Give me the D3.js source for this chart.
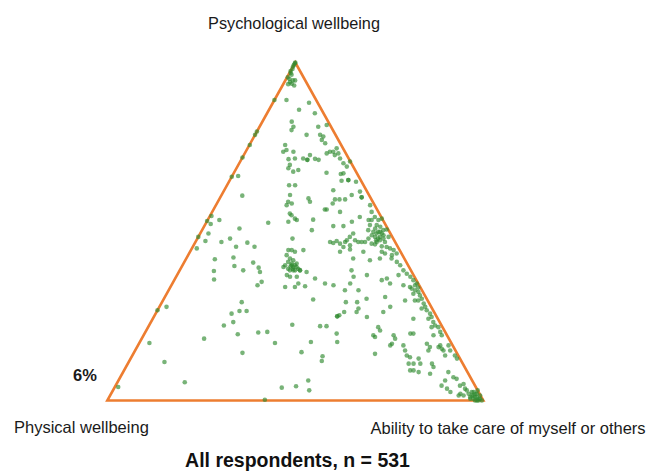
<!DOCTYPE html>
<html>
<head>
<meta charset="utf-8">
<script src="https://cdn.jsdelivr.net/npm/d3@7"></script>
<style>
html,body{margin:0;padding:0;background:#fff;}
svg{display:block;font-family:"Liberation Sans",Arial,sans-serif;}
</style>
</head>
<body>
<svg id="chart" width="651" height="471"></svg>
<script>
// Corner (component) labels of the ternary plot
const cornerLabels = ["Psychological wellbeing", "Physical wellbeing", "Ability to take care of myself or others"];
const chartTitle = "All respondents, n = 531";
const cornerNote = "6%";

// Each response: [psychological %, ability %]; physical % = remainder
const responses = [
[100,0],[99.8,0],[99.3,0],[98.8,0],[98.1,0.2],[97.5,0],[96.9,0.3],[96.4,0.8],[95.6,0.2],[95.1,0.9],[94.7,2.0],[94.2,1.5],[94.7,2.6],[93.7,2.2],[93.6,1.3],[93.2,3.1],
[88.9,0],[88.9,3.2],[88.1,9.6],[86.0,8.0],[85.0,12.7],[82.5,7.8],[81.0,9.0],[80.0,9.0],[79.6,0],[78.6,0],[75.6,0.1],
[81.0,15.6],[81.5,17.6],[78.6,17.3],[78.1,18.4],[77.1,18.5],[76.1,19.9],[78.6,13.7],
[75.6,9.5],[74.1,10.6],[73.6,10.0],[73.6,12.7],[71.4,12.5],[71.6,14.1],[71.6,16.3],[71.2,17.6],[71.2,17.6],[72.6,17.6],[71.5,19.5],[71.2,20.6],[73.1,21.8],[73.6,22.4],[73.6,23.3],[74.6,23.7],[73.1,24.9],[72.6,24.2],[71.6,26.1],[70.2,27.7],[69.2,29.1],[70.7,29.2],[69.7,13.7],[68.7,13.8],[67.7,15.6],[68.2,16.7],[67.2,29.2],[64.7,33.8],
[71.9,0],[66.2,0],[66.4,1.6],[60.6,5.6],[54.6,0.4],[53.1,0],[53.4,3.1],[48.4,0],[45.0,1.3],[49.4,2.2],[46.9,6.9],[47.9,8.7],[45.5,11.5],[46.7,13.9],[45.5,16.4],[50.9,9.7],[52.6,16.5],[41.8,7.7],[42.3,12.4],[39.8,13.9],[38.5,16.9],[40.8,18.4],[38.0,21.6],[35.1,23.5],[34.1,22.9],[38.3,9.2],[35.8,10.5],[39.3,20.6],[47.2,2.5],[52.2,1.4],
[27.7,1.9],[26.7,0],[29.1,21.2],[26.5,21.9],[25.7,20.2],[26.5,23.8],[22.2,19.9],[23.2,21.9],[19.6,24.9],[14.1,28.9],[20.1,30.1],[20.3,32.4],[17.0,36.1],[18.3,16.6],[17.0,2.7],[11.4,9.5],[5.4,17.9],[4.0,0.9],[0.2,41.8],[3.8,44.5],[4.2,48.1],[5.9,50.5],[3.0,52.2],[22.4,38.0],
[14.3,44.5],[13.1,50.7],[11.7,51.2],[22.0,45.6],[22.0,47.3],[24.9,48.7],[24.9,48.7],[25.2,49.1],[19.8,51.1],[17.3,52.5],
[33.8,35.7],[32.6,46.9],[32.6,50.5],[29.9,39.8],[29.1,48.9],[29.1,51.9],[27.2,53.2],[26.2,49.9],[26.2,53.2],[17.3,45.5],
[67.4,24.6],[67.0,28.6],[65.2,31.5],[65.2,31.5],[65.0,29.8],[62.2,29.0],[61.8,36.3],[60.1,37.6],[60.1,37.6],[60.8,34.6],[59.8,23.6],[59.5,30.8],[59.5,32.0],[59.5,33.5],[58.3,30.8],[58.8,24.5],[56.5,29.6],[56.5,30.1],[55.8,34.0],[57.8,41.0],[55.8,42.4],[54.3,44.0],[53.5,28.0],[52.9,38.6],[54.3,40.0],[53.4,42.8],[53.4,45.4],[53.8,46.1],[51.9,43.9],[51.6,34.3],[51.6,37.0],[50.4,29.2],[50.4,44.2],[50.9,45.8],[51.4,46.9],[50.4,48.2],[50.6,49.0],[48.9,45.9],[49.4,46.9],[48.4,48.3],[48.9,49.0],[48.4,50.6],[47.4,48.8],[46.9,50.4],[49.4,40.7],[48.4,40.3],[47.4,40.0],[47.4,42.2],[46.9,35.8],[46.6,36.8],[47.2,37.4],[46.4,38.7],[46.9,39.8],[46.9,43.3],[46.9,44.2],[46.9,45.1],[46.4,47.1],[46.2,48.1],[46.9,48.2],[45.4,40.1],[45.9,41.6],[44.0,39.9],[44.7,42.2],[45.6,50.2],[45.4,51.6],[45.0,52.7],[44.5,53.9],[43.5,55.2],[44.5,29.9],[44.0,51.0],[43.5,52.1],[43.0,54.2],[44.0,46.1],[42.0,44.4],[41.5,49.1],[42.0,51.5],[42.0,54.6],[41.0,56.5],[40.0,57.9],[38.5,59.5],[37.5,60.9],[36.6,62.3],[35.6,63.6],[34.6,65.0],[38.5,45.7],[37.1,50.5],[36.6,47.2],[38.0,34.0],[38.5,32.0],[36.1,37.2],[34.6,40.6],[34.1,43.1],[34.6,47.3],[35.6,55.2],[36.1,56.3],[34.6,57.9],[37.1,58.9],[34.1,61.7],[33.6,63.7],[34.1,64.8],[33.4,66.0],[49.9,47.1],[49.4,48.3],[48.4,47.0],[47.9,48.1],[47.9,49.5],[49.9,45.8],[49.9,47.6],[51.9,45.7],[53.4,43.6],[47.4,47.8],[47.9,45.5],
[63.7,16.5],[63.7,18.1],[60.8,18.2],[58.8,18.7],[58.3,19.9],[57.8,18.8],[55.3,20.9],[54.8,21.6],[53.8,23.0],[52.9,21.7],[53.4,23.7],[47.9,25.3],[44.5,25.9],[44.5,26.8],[44.0,27.9],[43.0,26.2],[42.0,27.6],[41.5,28.7],[40.0,27.3],[40.5,30.1],[39.0,28.6],[38.5,30.2],[39.0,31.3],[37.1,29.2],[36.6,30.3],[36.6,32.1],[33.6,30.5],[33.6,33.1],[34.6,33.5],[39.5,27.1],[40.0,29.0],[40.5,28.8],[39.5,29.7],[40.0,29.9],[38.5,29.3],[39.5,30.6],[38.5,30.7],[39.0,29.8],[39.7,28.9],[41.0,27.6],[38.5,32.0],
[33.1,64.4],[32.6,65.6],[31.6,65.6],[32.1,66.7],[31.1,67.6],[30.1,68.6],[29.6,67.9],[29.6,67.0],[28.7,69.8],[27.7,70.7],[26.7,71.6],[27.2,70.0],[25.7,73.0],[24.7,73.9],[24.2,73.3],[23.2,75.1],[22.2,76.1],[21.7,77.2],[21.7,75.4],[20.3,78.4],[19.3,79.3],[30.1,53.9],[30.6,58.6],[27.7,61.4],[29.6,64.4],[26.2,60.3],[24.7,56.7],[24.2,69.3],[21.7,61.2],[20.7,62.2],[19.3,61.1],[18.8,61.8],[19.3,66.5],[18.3,67.4],[16.8,67.3],[16.3,67.1],[19.8,70.7],[19.8,71.5],[19.3,77.1],[16.8,76.6],[15.8,77.9],[14.8,78.0],[16.3,80.4],[15.3,81.3],[15.8,80.2],[14.8,82.0],[13.3,83.2],[16.3,82.6],[14.8,83.8],[13.3,85.8],[12.4,86.8],[16.3,70.6],[14.8,71.8],[13.3,73.0],[12.8,74.1],[13.8,64.3],[12.4,76.6],[10.9,74.7],[10.9,76.0],[10.9,77.8],[10.9,80.9],[9.9,81.8],[7.9,81.9],[8.9,76.1],[8.9,77.0],[8.4,78.6],[8.4,86.5],[6.9,88.6],[6.4,89.7],[4.4,91.6],[4.9,92.3],[3.5,93.4],[5.9,86.9],[4.4,86.7],[3.5,88.6],[2.5,90.0],[2.0,92.9],[1.5,94.0],[3.0,94.1],[2.0,95.1],[2.5,95.7],[1.5,96.6],[1.0,97.3],[2.0,97.3],[3.0,97.0],[1.5,98.4],[0.5,96.3],[0,97.8],[0.5,98.5],[0,99.6],[1.5,92.7],[0.5,97.1],[1.0,97.8],[1.5,96.2],[2.0,96.9],[0,98.7],[0.5,98.9],[0,98.3],[2.5,96.2],[1.0,96.0]
];

const svg = d3.select("#chart");

// Scales: vertical position from psychological share, horizontal from ability + half psychological
const yScale = d3.scaleLinear().domain([0, 100]).range([400.5, 62.5]);
const xScale = d3.scaleLinear().domain([0, 100]).range([107.3, 483.3]);

const toXY = (psych, abil) => [xScale(abil + psych / 2), yScale(psych)];

const data = responses.map(([p, a]) => ({ psych: p, ability: a, physical: 100 - p - a }));

// Triangle outline (corners are pure compositions)
const corners = [toXY(100, 0), toXY(0, 0), toXY(0, 100)];
svg.append("path")
  .attr("d", d3.line()(corners) + "Z")
  .attr("fill", "none")
  .attr("stroke", "#ED7D31")
  .attr("stroke-width", 2.6)
  .attr("stroke-linejoin", "miter");

// Points
svg.append("g")
  .selectAll("circle")
  .data(data)
  .join("circle")
  .attr("cx", d => toXY(d.psych, d.ability)[0])
  .attr("cy", d => toXY(d.psych, d.ability)[1])
  .attr("r", 2.3)
  .attr("fill", "#2f8a2f")
  .attr("fill-opacity", 0.65);

// Corner labels
svg.append("text").attr("x", 294).attr("y", 28.5).attr("text-anchor", "middle")
  .attr("font-size", 16.3).attr("fill", "#1a1a1a").text(cornerLabels[0]);
svg.append("text").attr("x", 14).attr("y", 433).attr("text-anchor", "start")
  .attr("font-size", 16.5).attr("fill", "#1a1a1a").text(cornerLabels[1]);
svg.append("text").attr("x", 370.5).attr("y", 433.5).attr("text-anchor", "start")
  .attr("font-size", 16.5).attr("fill", "#1a1a1a").text(cornerLabels[2]);

// Note and title
svg.append("text").attr("x", 73).attr("y", 380.5).attr("font-size", 16.5)
  .attr("font-weight", "bold").attr("fill", "#1a1a1a").text(cornerNote);
svg.append("text").attr("x", 297.5).attr("y", 466.5).attr("text-anchor", "middle")
  .attr("font-size", 19.5).attr("font-weight", "bold").attr("fill", "#111").text(chartTitle);
</script>
</body>
</html>
